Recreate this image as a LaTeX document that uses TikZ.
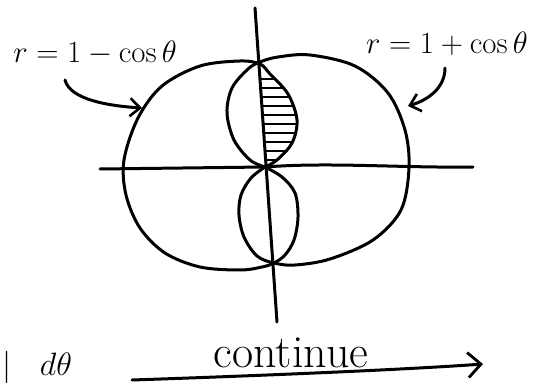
\documentclass[tikz,border=0pt]{standalone}
\usetikzlibrary{arrows.meta}
\begin{document}
\begin{tikzpicture}[x=1pt,y=-1pt,
  curve/.style={line width=3pt, line cap=round, line join=round},
  hatch/.style={line width=2.6pt, line cap=round},
  arr/.style={curve, -{Straight Barb[length=10pt,width=18pt,line width=2.6pt]}},
  bigarr/.style={curve, -{Straight Barb[length=13pt,width=25pt,line width=2.8pt]}},
  lbl/.style={font=\Huge, scale=1.24, inner sep=0pt}]
\useasboundingbox (0,0) rectangle (541,385);
% named points
\coordinate (T) at (260,63);
\coordinate (O) at (265,167);
\coordinate (B) at (274,263);
\coordinate (VT) at (255,8);
\coordinate (VB) at (277,322);
\coordinate (HL) at (100,169);
\coordinate (HR) at (473,167);
% axes
\draw[curve] (VT) -- (VB);
\draw[curve] (HL) -- (O) .. controls (330,162) and (400,168) .. (HR);
% cardioid r = 1 - cos(theta)
\draw[curve] plot[smooth, tension=0.55] coordinates {(265,167) (277,160) (292,143) (297,120) (288,94) (270,74) (260,64) (240,61) (200,66) (162,86) (138,118) (124,160) (126,195) (140,228) (165,253) (200,267) (240,270) (262,267) (274,263) (285,255) (294,240) (298,217) (295,193) (282,177) (265,167)};
% cardioid r = 1 + cos(theta)
\draw[curve] plot[smooth, tension=0.55] coordinates {(265,167) (250,160) (234,140) (227,113) (232,88) (248,69) (260,62) (278,57) (310,55) (355,66) (388,93) (405,130) (409,168) (401,210) (373,240) (330,259) (295,265) (274,263) (257,256) (244,237) (239,215) (241,195) (251,178) (265,167)};
% hatching
\begin{scope}
  \clip plot[smooth, tension=0.55] coordinates {(265,167) (277,160) (292,143) (297,120) (288,94) (270,74) (260,64)} -- cycle;
  \foreach \yy in {79,88,...,160} \draw[hatch] (255,\yy) -- (300,\yy);
\end{scope}
% labels and arrows
\node[lbl] (lblL) at (95,53) {$r=1-\cos\theta$};
\node[lbl] (lblR) at (447,44) {$r=1+\cos\theta$};
\coordinate (a1s) at (65,80);
\coordinate (a1e) at (142,108);
\coordinate (a2s) at (445,68);
\coordinate (a2e) at (408,106);
\draw[arr] (a1s) .. controls (70,100) and (110,106) .. (a1e);
\draw[arr] (a2s) .. controls (445,88) and (428,100) .. (a2e);
% bottom
\node[font=\fontsize{46}{46}\selectfont, anchor=base, inner sep=0pt] (cont) at (291,367) {continue};
\coordinate (b1s) at (132,380);
\coordinate (b1e) at (483,364);
\draw[bigarr] (b1s) .. controls (250,376) and (400,370) .. (b1e);
\node[font=\Huge, scale=1.3, anchor=base west, inner sep=0pt] (frag) at (2,375) {$|\hspace{22pt}d\theta$};
\end{tikzpicture}
\end{document}
